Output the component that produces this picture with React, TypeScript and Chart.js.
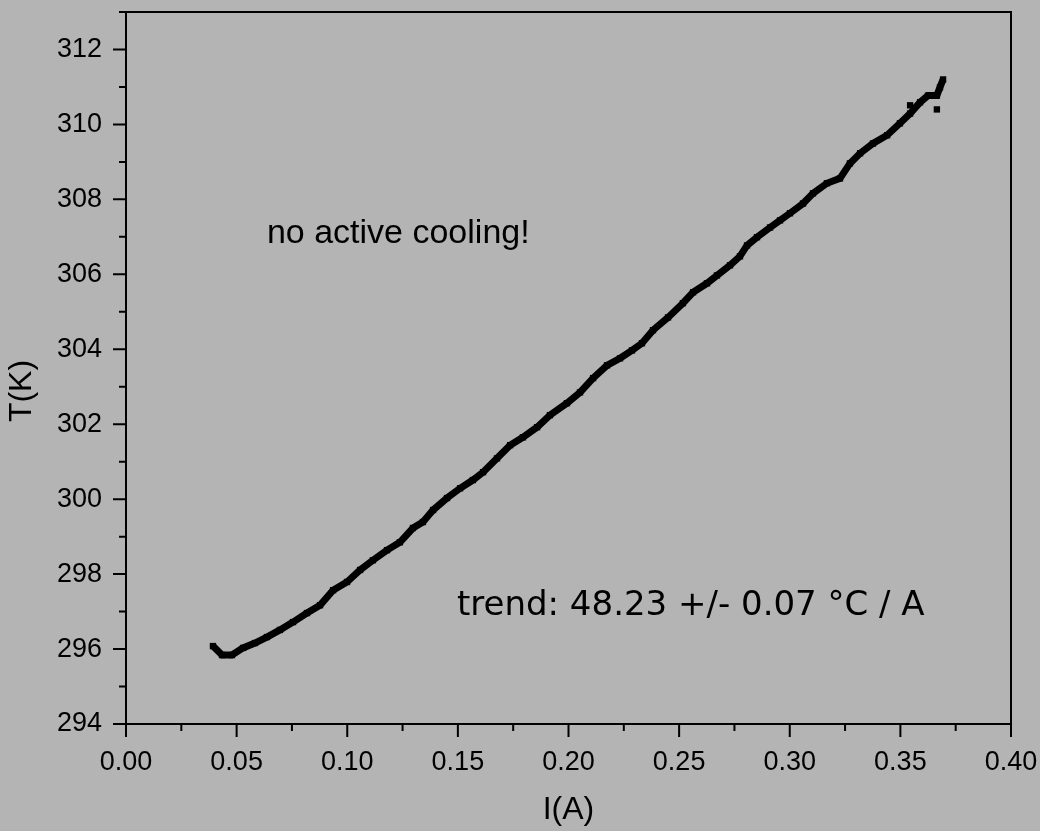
import { useEffect, useRef } from "react";
import { Chart, registerables } from "chart.js";

Chart.register(...registerables);

// Measured heating curve: sample temperature against drive current
const currentA = [
  0.0393, 0.0434, 0.0479, 0.0529, 0.0583, 0.0637, 0.0696, 0.0755, 0.0818, 0.0877,
  0.0936, 0.0999, 0.1058, 0.1116, 0.118, 0.1238, 0.1297, 0.1342, 0.1388, 0.1451,
  0.151, 0.1568, 0.1614, 0.1677, 0.1736, 0.1794, 0.1858, 0.1916, 0.1993, 0.2052,
  0.2111, 0.2174, 0.2233, 0.2287, 0.2332, 0.2382, 0.245, 0.2517, 0.2563, 0.2626,
  0.2671, 0.273, 0.2775, 0.2807, 0.2852, 0.2911, 0.2956, 0.3001, 0.306, 0.3105,
  0.3168, 0.3227, 0.3272, 0.3318, 0.3376, 0.344, 0.3498, 0.3544, 0.3589, 0.3625,
  0.3665, 0.3679, 0.3693,
];
const temperatureK = [
  296.08, 295.84, 295.84, 296.03, 296.16, 296.32, 296.51, 296.72, 296.96, 297.17,
  297.57, 297.79, 298.11, 298.37, 298.64, 298.85, 299.23, 299.39, 299.71, 300.03,
  300.29, 300.51, 300.72, 301.09, 301.44, 301.65, 301.92, 302.24, 302.56, 302.85,
  303.23, 303.57, 303.76, 303.97, 304.16, 304.51, 304.85, 305.23, 305.52, 305.76,
  305.97, 306.24, 306.48, 306.77, 306.99, 307.25, 307.44, 307.63, 307.89, 308.16,
  308.43, 308.56, 308.96, 309.23, 309.49, 309.71, 310.03, 310.29, 310.59, 310.77,
  310.77, 310.99, 311.2,
];
// isolated readings
const strayCurrentA = [0.3544, 0.3665];
const strayTemperatureK = [310.51, 310.4];

const xTickValues = [0, 0.05, 0.1, 0.15, 0.2, 0.25, 0.3, 0.35, 0.4];
const yTickValues = [294, 296, 298, 300, 302, 304, 306, 308, 310, 312];
const xRange = [0, 0.4];
const yRange = [294, 313];

const xTitle = "I(A)";
const yTitle = "T(K)";
const noteText = "no active cooling!";
const noteAt = [0.0637, 306.83];
const trendText = "trend: 48.23 +/- 0.07 \u00B0C / A";
const trendAt = [0.1496, 296.91];

const SANS = "'Liberation Sans', Arial, sans-serif";

const framePlugin = {
  id: "frame",
  afterDraw(chart: any) {
    const { ctx, chartArea: a } = chart;
    const xs = chart.scales.x;
    const ys = chart.scales.y;
    ctx.save();
    ctx.strokeStyle = "#000";
    ctx.lineWidth = 2;
    ctx.lineCap = "butt";
    ctx.strokeRect(a.left, a.top, a.right - a.left, a.bottom - a.top);

    const major = 13;
    const minor = 7;
    ctx.beginPath();
    // x ticks (major plus halfway minors)
    xTickValues.forEach((v, i) => {
      const px = xs.getPixelForValue(v);
      ctx.moveTo(px, a.bottom);
      ctx.lineTo(px, a.bottom + major);
      if (i < xTickValues.length - 1) {
        const m = (v + xTickValues[i + 1]) / 2;
        const mx = xs.getPixelForValue(m);
        ctx.moveTo(mx, a.bottom);
        ctx.lineTo(mx, a.bottom + minor);
      }
    });
    // y ticks
    yTickValues.forEach((v, i) => {
      const py = ys.getPixelForValue(v);
      ctx.moveTo(a.left, py);
      ctx.lineTo(a.left - major, py);
      const next = i < yTickValues.length - 1 ? yTickValues[i + 1] : v + 2;
      const m = (v + next) / 2;
      if (m <= yRange[1]) {
        const my = ys.getPixelForValue(m);
        ctx.moveTo(a.left, my);
        ctx.lineTo(a.left - minor, my);
      }
    });
    ctx.stroke();

    // rotated y axis title
    ctx.fillStyle = "#000";
    ctx.font = `32px ${SANS}`;
    ctx.textAlign = "center";
    ctx.textBaseline = "middle";
    ctx.translate(22, (a.top + a.bottom) / 2 + 23);
    ctx.rotate(-Math.PI / 2);
    ctx.fillText(yTitle, 0, 0);
    ctx.restore();
  },
  afterDatasetsDraw(chart: any) {
    const { ctx } = chart;
    const xs = chart.scales.x;
    const ys = chart.scales.y;
    ctx.save();
    ctx.fillStyle = "#000";
    ctx.textAlign = "left";
    ctx.textBaseline = "alphabetic";
    ctx.font = `34px ${SANS}`;
    ctx.fillText(noteText, xs.getPixelForValue(noteAt[0]), ys.getPixelForValue(noteAt[1]));
    ctx.font = `34px 'DejaVu Sans', sans-serif`;
    ctx.fillText(trendText, xs.getPixelForValue(trendAt[0]), ys.getPixelForValue(trendAt[1]));
    ctx.restore();
  },
};

const zeroPadding = (s: any) => {
  s.paddingTop = 0;
  s.paddingBottom = 0;
  s.paddingLeft = 0;
  s.paddingRight = 0;
};

export default function App() {
  const canvasRef = useRef<HTMLCanvasElement | null>(null);

  useEffect(() => {
    if (!canvasRef.current) return;
    const chart = new Chart(canvasRef.current, {
      type: "scatter",
      data: {
        datasets: [
          {
            data: currentA.map((x, i) => ({ x, y: temperatureK[i] })),
            showLine: true,
            borderColor: "#000",
            borderWidth: 7,
            backgroundColor: "#000",
            pointStyle: "rect",
            pointRadius: 4.5,
            pointBorderWidth: 0,
          },
          {
            data: strayCurrentA.map((x, i) => ({ x, y: strayTemperatureK[i] })),
            showLine: false,
            backgroundColor: "#000",
            borderColor: "#000",
            pointStyle: "rect",
            pointRadius: 4.5,
            pointBorderWidth: 0,
          },
        ],
      },
      options: {
        animation: false,
        responsive: false,
        layout: { padding: { left: 0, top: 12, right: 29, bottom: 0 } },
        plugins: {
          legend: { display: false },
          tooltip: { enabled: false },
        },
        scales: {
          x: {
            type: "linear",
            min: xRange[0],
            max: xRange[1],
            afterBuildTicks: (s: any) => {
              s.ticks = xTickValues.map((value) => ({ value }));
            },
            afterFit: (s: any) => {
              s.height = 107;
              zeroPadding(s);
            },
            grid: { display: false, drawTicks: false },
            border: { display: false },
            ticks: {
              padding: 22,
              color: "#000",
              font: { family: SANS, size: 27 },
              maxRotation: 0,
              autoSkip: false,
              callback: (v: any) => Number(v).toFixed(2),
            },
            title: {
              display: true,
              text: xTitle,
              color: "#000",
              font: { family: SANS, size: 32 },
              padding: { top: 0, bottom: 2 },
            },
          },
          y: {
            type: "linear",
            min: yRange[0],
            max: yRange[1],
            afterBuildTicks: (s: any) => {
              s.ticks = yTickValues.map((value) => ({ value }));
            },
            afterFit: (s: any) => {
              s.width = 126;
              zeroPadding(s);
            },
            grid: { display: false, drawTicks: false },
            border: { display: false },
            ticks: {
              padding: 24,
              color: "#000",
              font: { family: SANS, size: 27 },
              autoSkip: false,
              callback: (v: any) => String(v),
            },
          },
        },
      },
      plugins: [framePlugin],
    });
    return () => chart.destroy();
  }, []);

  return (
    <div
      style={{
        position: "fixed",
        left: 0,
        top: 0,
        width: 1040,
        height: 831,
        background: "rgb(180,180,180)",
      }}
    >
      <canvas ref={canvasRef} width={1040} height={831} />
    </div>
  );
}
